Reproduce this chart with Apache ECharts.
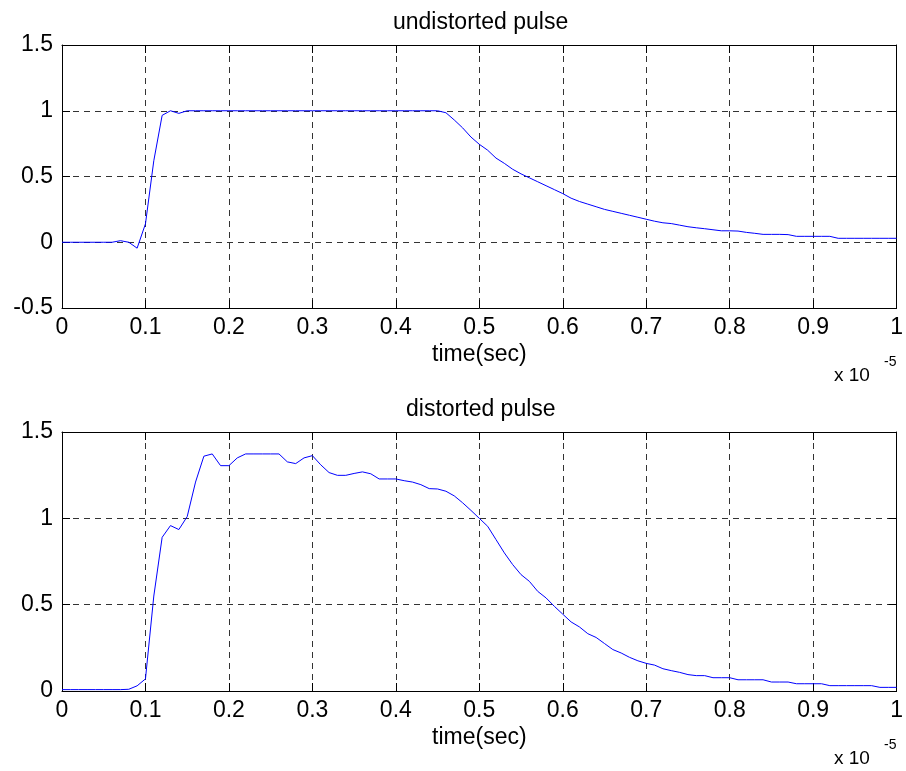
<!DOCTYPE html>
<html>
<head>
<meta charset="utf-8">
<title>pulse</title>
<script src="https://cdn.jsdelivr.net/npm/echarts@6/dist/echarts.min.js"></script>
<style>
  html, body { margin: 0; padding: 0; background: #fff; }
  #chart { width: 906px; height: 771px; }
</style>
</head>
<body>
<div id="chart"></div>
<script>
// sample times, in units of 1e-5 s
const time = [
  0, 0.01, 0.02, 0.03, 0.04, 0.05, 0.06, 0.07, 0.08, 0.09,
  0.10, 0.11, 0.12, 0.13, 0.14, 0.15, 0.16, 0.17, 0.18, 0.19,
  0.20, 0.21, 0.22, 0.23, 0.24, 0.25, 0.26, 0.27, 0.28, 0.29,
  0.30, 0.31, 0.32, 0.33, 0.34, 0.35, 0.36, 0.37, 0.38, 0.39,
  0.40, 0.41, 0.42, 0.43, 0.44, 0.45, 0.46, 0.47, 0.48, 0.49,
  0.50, 0.51, 0.52, 0.53, 0.54, 0.55, 0.56, 0.57, 0.58, 0.59,
  0.60, 0.61, 0.62, 0.63, 0.64, 0.65, 0.66, 0.67, 0.68, 0.69,
  0.70, 0.71, 0.72, 0.73, 0.74, 0.75, 0.76, 0.77, 0.78, 0.79,
  0.80, 0.81, 0.82, 0.83, 0.84, 0.85, 0.86, 0.87, 0.88, 0.89,
  0.90, 0.91, 0.92, 0.93, 0.94, 0.95, 0.96, 0.97, 0.98, 0.99,
  1.00
];

// transmitted pulse
const undistorted = [
  0, 0, 0, 0, 0, 0, 0, 0.012, 0, -0.045,
  0.14, 0.62, 0.965, 1.0, 0.98, 1.0, 1.0, 1.0, 1.0, 1.0,
  1.0, 1.0, 1.0, 1.0, 1.0, 1.0, 1.0, 1.0, 1.0, 1.0,
  1.0, 1.0, 1.0, 1.0, 1.0, 1.0, 1.0, 1.0, 1.0, 1.0,
  1.0, 1.0, 1.0, 1.0, 1.0, 1.0, 0.985, 0.93, 0.87, 0.80,
  0.745, 0.70, 0.64, 0.60, 0.555, 0.52, 0.49, 0.46, 0.43, 0.40,
  0.37, 0.335, 0.31, 0.29, 0.27, 0.25, 0.235, 0.22, 0.205, 0.19,
  0.175, 0.16, 0.148, 0.142, 0.13, 0.118, 0.11, 0.103, 0.095, 0.087,
  0.087, 0.085, 0.075, 0.068, 0.06, 0.06, 0.06, 0.058, 0.045, 0.045,
  0.045, 0.045, 0.045, 0.03, 0.03, 0.03, 0.03, 0.03, 0.03, 0.03,
  0.03
];

// received pulse after the channel
const distorted = [
  0.008, 0.008, 0.008, 0.008, 0.008, 0.008, 0.008, 0.008, 0.01, 0.03,
  0.07, 0.55, 0.89, 0.958, 0.935, 1.01, 1.21, 1.36, 1.373, 1.305,
  1.305, 1.35, 1.373, 1.373, 1.373, 1.373, 1.373, 1.327, 1.317, 1.35,
  1.363, 1.31, 1.265, 1.249, 1.249, 1.26, 1.269, 1.258, 1.228, 1.228,
  1.228, 1.218, 1.21, 1.195, 1.172, 1.17, 1.157, 1.13, 1.09, 1.046,
  1.0, 0.954, 0.877, 0.80, 0.732, 0.674, 0.635, 0.577, 0.539, 0.49,
  0.445, 0.40, 0.371, 0.332, 0.31, 0.275, 0.24, 0.22, 0.195, 0.175,
  0.16, 0.15, 0.129, 0.118, 0.108, 0.095, 0.089, 0.089, 0.077, 0.077,
  0.077, 0.065, 0.065, 0.065, 0.065, 0.052, 0.052, 0.052, 0.042, 0.042,
  0.042, 0.042, 0.031, 0.031, 0.031, 0.031, 0.031, 0.031, 0.021, 0.021,
  0.021
];

const panelTitles = ['undistorted pulse', 'distorted pulse'];
const xLabel = 'time(sec)';
const xTicks = [0, 0.1, 0.2, 0.3, 0.4, 0.5, 0.6, 0.7, 0.8, 0.9, 1];
const yRanges = [[-0.5, 1.5], [0, 1.5]];
const yStep = 0.5;

const FONT = '"Liberation Sans", Arial, Helvetica, sans-serif';
const FS = 23;
const W = 906;
const grids = [
  { left: 62, right: 7, top: 45, height: 263 },
  { left: 62, right: 7, top: 432, height: 259 }
];

const gridLine = { show: true, lineStyle: { color: '#333', width: 1, type: [6, 5] } };
const edge = { show: true, onZero: false, lineStyle: { color: '#000', width: 1 } };
const ticksIn = { show: true, inside: true, length: 8, lineStyle: { color: '#000', width: 1 } };

function fmt(v) { return String(+v.toFixed(2)); }

// measure text so titles can be centred over the plot box
const measureCtx = document.createElement('canvas').getContext('2d');
function textWidth(str, size) {
  measureCtx.font = size + 'px ' + FONT;
  return measureCtx.measureText(str).width;
}

const xAxes = [], yAxes = [], series = [], titles = [], graphics = [];
const curves = [undistorted, distorted];

grids.forEach((g, i) => {
  // bottom x axis with labels and name
  xAxes.push({
    type: 'value', gridIndex: i, position: 'bottom',
    min: xTicks[0], max: xTicks[xTicks.length - 1], interval: 0.1,
    axisLine: edge, axisTick: ticksIn, splitLine: gridLine,
    axisLabel: { color: '#000', fontFamily: FONT, fontSize: FS, margin: 8, formatter: fmt },
    name: xLabel, nameLocation: 'middle', nameGap: 35,
    nameTextStyle: { color: '#000', fontFamily: FONT, fontSize: FS }
  });
  // top edge of the box
  xAxes.push({
    type: 'value', gridIndex: i, position: 'top',
    min: xTicks[0], max: xTicks[xTicks.length - 1], interval: 0.1,
    axisLine: edge, axisTick: ticksIn, splitLine: { show: false },
    axisLabel: { show: false }
  });
  // left y axis
  yAxes.push({
    type: 'value', gridIndex: i, position: 'left',
    min: yRanges[i][0], max: yRanges[i][1], interval: yStep,
    axisLine: edge, axisTick: ticksIn, splitLine: gridLine,
    axisLabel: { color: '#000', fontFamily: FONT, fontSize: FS, margin: 9, formatter: fmt }
  });
  // right edge of the box
  yAxes.push({
    type: 'value', gridIndex: i, position: 'right',
    min: yRanges[i][0], max: yRanges[i][1], interval: yStep,
    axisLine: edge, axisTick: ticksIn, splitLine: { show: false },
    axisLabel: { show: false }
  });

  series.push({
    type: 'line',
    xAxisIndex: i * 2, yAxisIndex: i * 2,
    data: time.map((t, k) => [t, curves[i][k]]),
    showSymbol: false, symbol: 'none',
    lineStyle: { color: '#0000ff', width: 1 },
    animation: false
  });

  const plotCenter = g.left + (W - g.left - g.right) / 2;
  titles.push({
    text: panelTitles[i],
    left: Math.round(plotCenter - textWidth(panelTitles[i], FS) / 2) - 5,
    top: g.top - 39,
    textStyle: { color: '#000', fontFamily: FONT, fontSize: FS, fontWeight: 'normal' }
  });

  // axis exponent "x 10^-5"
  const base = g.top + g.height;
  graphics.push({
    type: 'text', left: 834, top: base + 58,
    style: { text: 'x 10', fill: '#000', fontFamily: FONT, fontSize: 19 }
  });
  graphics.push({
    type: 'text', left: 884, top: base + 47,
    style: { text: '-5', fill: '#000', fontFamily: FONT, fontSize: 14 }
  });
});

const chart = echarts.init(document.getElementById('chart'), null, { renderer: 'canvas' });
chart.setOption({
  backgroundColor: '#fff',
  animation: false,
  title: titles,
  grid: grids,
  xAxis: xAxes,
  yAxis: yAxes,
  series: series,
  graphic: graphics
});
</script>
</body>
</html>
